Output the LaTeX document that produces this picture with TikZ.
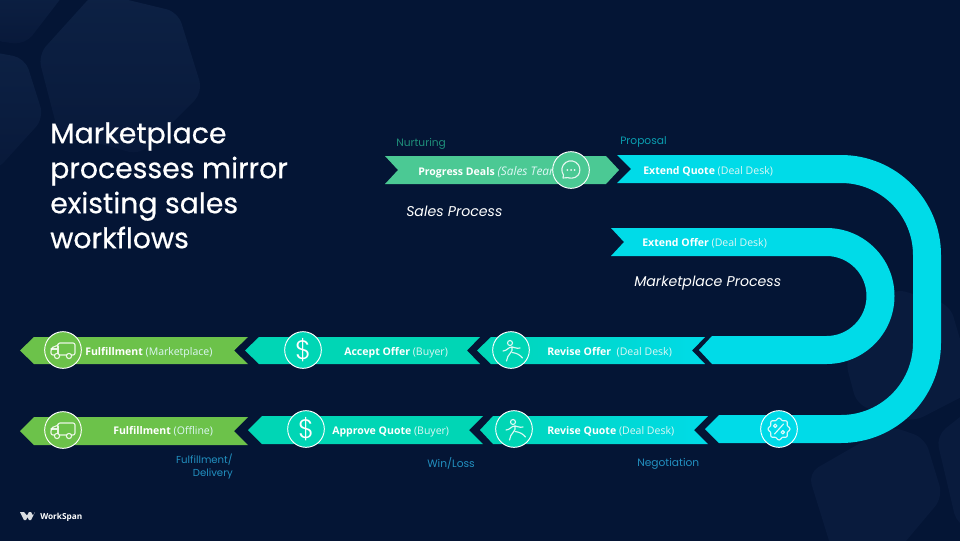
\documentclass[tikz,border=0pt]{standalone}
\usepackage{fontspec}
\setmainfont{Open Sans}
\newfontfamily\headfont{Poppins}
\newfontfamily\titlefont{Poppins}[FakeBold=0.5]
\newfontfamily\signfont{Poppins Light}
\usetikzlibrary{positioning,calc}
\definecolor{slatebg}{RGB}{4,21,53}
\definecolor{hexlight}{RGB}{13,33,68}
\definecolor{hexdim}{RGB}{8,25,58}
\definecolor{hexlow}{RGB}{9,27,61}
\definecolor{bandcyan}{RGB}{0,219,232}
\definecolor{bandteal}{RGB}{0,214,181}
\definecolor{bandgreen}{RGB}{108,194,74}
\definecolor{bandmint}{RGB}{75,201,148}
\definecolor{stagemint}{RGB}{30,143,122}
\definecolor{stagecyan}{RGB}{10,158,176}
\definecolor{stageblue}{RGB}{34,144,192}
\definecolor{softwhite}{RGB}{222,247,245}
\tikzset{
  hexshape/.style={rounded corners=9pt,top color=hexlight,bottom color=hexdim,draw=none},
  hexflat/.style={rounded corners=9pt,fill=hexlow,draw=none},
  banner/.style={anchor=base west,inner sep=0pt,font=\fontsize{7.9}{10}\selectfont,text=softwhite},
  stagelabel/.style={anchor=base west,inner sep=0pt,font=\headfont\fontsize{8}{10}\selectfont},
  processlabel/.style={anchor=base west,inner sep=0pt,text=white,font=\headfont\itshape\fontsize{10.6}{12}\selectfont},
  iconcircle/.style={circle,draw=white,line width=0.7pt,minimum size=27.5pt,inner sep=0pt,text=white},
  iconline/.style={draw=white,draw opacity=0.85,line width=0.85pt,line cap=round,line join=round},
  signcircle/.style={iconcircle,fill=bandteal,font=\signfont\fontsize{20}{20}\selectfont},
  truckicon/.pic={
    \draw[iconline,rounded corners=1.5pt] (-5,-7) -- (12,-7) -- (12,5) -- (-12,5) -- (-12,-1) -- (-9,-4) -- (-5,-4) -- cycle;
    \draw[iconline] (-5,-4) -- (-5,5) (-12,-1) -- (-5,-1);
    \draw[iconline,fill=bandgreen] (-6,6) circle (2.6) (6,6) circle (2.6);
  },
  runnericon/.pic={
    \draw[iconline] (-1,-7) circle (2.5);
    \draw[iconline] (-8,1) .. controls (-4,1) and (-3,-3) .. (1,-3) .. controls (4,-3) and (5,-1) .. (9,-2);
    \draw[iconline] (1,-3) .. controls (3,2) and (-4,4) .. (-4.5,11);
    \draw[iconline] (1,2.5) .. controls (6,3) and (9,5) .. (11.5,8);
  },
  badgeicon/.pic={
    \draw[iconline] plot[domain=0:352,samples=45,smooth cycle] ({(10+1*cos(8*\x))*cos(\x)},{(10+1*cos(8*\x))*sin(\x)});
    \draw[iconline] (-4.5,5) -- (4.5,-5);
    \draw[iconline] (-3.8,-3.2) circle (1.7) (3.8,3.2) circle (1.7);
  },
  chaticon/.pic={
    \draw[iconline] (-8,8) .. controls (-7,6) and (-7,6) .. (-7.5,5) arc[start angle=145,end angle=395,radius=9] .. controls (4,9.5) and (-3,8) .. (-3,7.6) -- cycle;
    \fill[white,opacity=0.9] (-3.6,0) circle (1) (0,0) circle (1) (3.6,0) circle (1);
  },
}
\newcommand{\leftband}[7]{
  \path[#7] (#1,{(#5+#6)/2}) -- (#2,#5) -- (#4,#5) -- (#3,{(#5+#6)/2}) -- (#4,#6) -- (#2,#6) -- cycle;
}
\newcommand{\stepname}[1]{{\bfseries\color{white}#1}}
\begin{document}
\begin{tikzpicture}[x=0.75pt,y=-0.75pt]
  \useasboundingbox (0,0) rectangle (960,540);
  \fill[slatebg] (-2,-2) rectangle (962,542);
  \begin{scope}
    \clip (0,0) rectangle (960,540);
    \path[hexshape] (-10,-20) -- (75,-20) -- (25,45) -- (-10,40) -- cycle;
    \path[hexshape] (95,-8) -- (178,12) -- (203,92) -- (140,155) -- (58,132) -- (38,55) -- cycle;
    \path[hexshape] (-30,48) -- (25,58) -- (44,118) -- (-5,172) -- (-30,165) -- cycle;
    \path[hexflat] (893,288) -- (950,305) -- (975,390) -- (913,422) -- (857,405) -- (845,360) -- cycle;
    \path[hexflat] (890,426) -- (925,438) -- (943,497) -- (890,560) -- (835,560) -- (808,473) -- cycle;
    \path[hexflat] (975,405) -- (936,436) -- (957,525) -- (975,530) -- cycle;
  \end{scope}

  \node[anchor=north west,align=left,inner sep=0pt,text=white,font=\titlefont\fontsize{21.2}{26.25}\selectfont] (title) at (50,122)
    {Marketplace\\processes mirror\\existing sales\\workflows};

  \path[fill=bandmint] (385,156) -- (606,156) -- (619,170) -- (606,184) -- (385,184) -- (398,170) -- cycle;
  \path[fill=bandcyan] (617,155) -- (841,155) arc[start angle=-90,end angle=0,radius=100] -- (941,343)
    arc[start angle=0,end angle=90,radius=100] -- (719,443) -- (705,429) -- (719,415) -- (841,415)
    arc[start angle=90,end angle=0,radius=72] -- (913,255) arc[start angle=0,end angle=-90,radius=72] -- (617,183) -- (631,169) -- cycle;
  \path[fill=bandcyan] (611,228) -- (826.5,228) arc[start angle=-90,end angle=90,radius=68] -- (712,364) -- (699,350) -- (712,336) -- (826.5,336)
    arc[start angle=90,end angle=-90,radius=40] -- (611,256) -- (624,242) -- cycle;

  \leftband{477}{491}{692}{705}{337}{364}{left color=bandteal,right color=bandcyan}
  \leftband{245}{259}{467}{480}{337}{364}{fill=bandteal}
  \leftband{20}{34}{234}{248}{337}{364}{fill=bandgreen}
  \leftband{480}{493}{694}{708}{416}{444}{left color=bandteal,right color=bandcyan}
  \leftband{248}{262}{469}{483}{416}{444}{fill=bandteal}
  \leftband{20}{34}{234}{248}{417}{445}{fill=bandgreen}

  \node[banner] (progress) at (418,175) {\stepname{Progress Deals} {\fontsize{8.9}{10}\selectfont\textit{(Sales Team)}}};
  \node[banner] (quote) at (643,174) {\stepname{Extend Quote} (Deal Desk)};
  \node[banner] (offer) at (642,246) {\stepname{Extend Offer} (Deal Desk)};
  \node[banner] (revoffer) at (547,355) {\stepname{Revise Offer}\ \ (Deal Desk)};
  \node[banner] (accept) at (344,355) {\stepname{Accept Offer} (Buyer)};
  \node[banner] (market) at (85,355) {\stepname{Fulfillment} (Marketplace)};
  \node[banner] (revquote) at (547,434) {\stepname{Revise Quote} (Deal Desk)};
  \node[banner] (approve) at (332,434) {\stepname{Approve Quote} (Buyer)};
  \node[banner] (offline) at (113,434) {\stepname{Fulfillment} (Offline)};

  \node[iconcircle,fill=bandmint] (chat) at (571,170) {};
  \pic at (chat) {chaticon};
  \node[iconcircle,fill=bandgreen] (truckone) at (63,350) {};
  \pic at (truckone) {truckicon};
  \node[iconcircle,fill=bandgreen] (trucktwo) at (63,430) {};
  \pic at (trucktwo) {truckicon};
  \node[signcircle] (dollarone) at (303,350) {\$};
  \node[signcircle] (dollartwo) at (306,429) {\$};
  \node[iconcircle,fill=bandteal] (runnerone) at (511,350) {};
  \pic at (runnerone) {runnericon};
  \node[iconcircle,fill=bandteal] (runnertwo) at (514,429) {};
  \pic at (runnertwo) {runnericon};
  \node[iconcircle,fill=bandcyan] (percent) at (779,429) {};
  \pic at (percent) {badgeicon};

  \node[stagelabel,text=stagemint] (nurturing) at (396,146) {Nurturing};
  \node[stagelabel,text=stagecyan] (proposal) at (620,144) {Proposal};
  \node[stagelabel,text=stageblue] (negotiation) at (637,466) {Negotiation};
  \node[stagelabel,text=stageblue] (winloss) at (427,467) {Win/Loss};
  \node[stagelabel,text=stageblue,anchor=north east,align=right,font=\headfont\fontsize{7.6}{9.7}\selectfont] (delivery) at (233,454) {Fulfillment/\\Delivery};
  \node[processlabel] (sales) at (406,216) {Sales Process};
  \node[processlabel] (mktproc) at (634,286) {Marketplace Process};

  \fill[white,opacity=0.85] (20,512) -- (24,512) -- (27,515.5) -- (29,512) -- (31,512) -- (33,515.5) -- (35,512) -- (35,512) -- (31,520) -- (29,520) -- (27.5,517) -- (26,520) -- (24,520) -- cycle;
  \node[anchor=base west,inner sep=0pt,text=white,font=\fontsize{6.2}{8}\selectfont\bfseries] (brand) at (40,519) {WorkSpan};
\end{tikzpicture}
\end{document}
